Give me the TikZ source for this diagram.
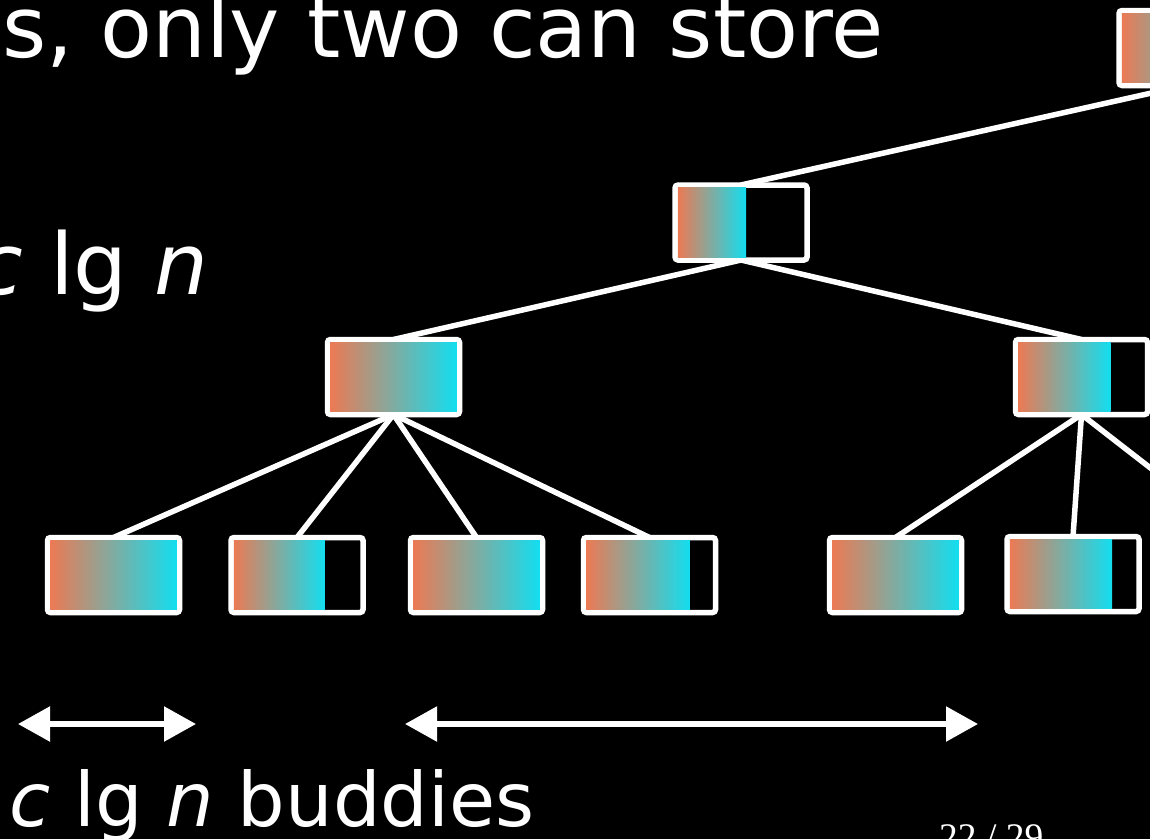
\documentclass[tikz,border=0pt]{standalone}
\usepackage{fontspec}
\usetikzlibrary{arrows.meta}
\newfontfamily\slidefont{DejaVu Sans}[ItalicFont={DejaVu Sans Oblique}]
\newfontfamily\pagefont{Liberation Serif}
\definecolor{fillorange}{RGB}{236,122,84}
\definecolor{fillcyan}{RGB}{18,222,240}
\tikzset{
  x=1pt, y=1pt,
  treebox/.style={draw=white, line width=5.5pt, fill=black, rounded corners=3pt,
    minimum width=132pt, minimum height=75pt, inner sep=0pt, outer sep=0pt},
  boxfill/.style={left color=fillorange, right color=fillcyan},
  edge/.style={draw=white, line width=5.5pt},
  span/.style={draw=white, line width=5.5pt,
    {Triangle[length=32pt,width=34pt]}-{Triangle[length=32pt,width=34pt]}},
  bigtext/.style={text=white, inner sep=0pt, font=\slidefont\fontsize{85}{100}\selectfont},
  labeltext/.style={text=white, inner sep=0pt, font=\slidefont\fontsize{75}{90}\selectfont},
  pagenum/.style={text=white, inner sep=0pt, font=\pagefont\fontsize{37.5}{44}\selectfont},
}
% gradient filling the used part (#2 of the inner width) of box #1
\newcommand\usedpart[2]{%
  \shade[boxfill] ([shift={(2.75,2.75)}]#1.south west) rectangle
    ([shift={({2.75+#2*126.5},-2.75)}]#1.north west);}
\begin{document}
\begin{tikzpicture}
\useasboundingbox (0,0) rectangle (1150,-839);
\fill[black] (0,0) rectangle (1150,-839);
\clip (0,0) rectangle (1150,-839);

% tree node positions
\coordinate (root) at (1185,-48);
\coordinate (l1) at (741,-222.5);
\coordinate (l2a) at (393.5,-377);
\coordinate (l2b) at (1081.5,-377);
\coordinate (la) at (113.5,-575);
\coordinate (lb) at (297,-575);
\coordinate (lc) at (476.5,-575);
\coordinate (ld) at (649.5,-575);
\coordinate (le) at (895.5,-575);
\coordinate (lf) at (1073,-574);
\coordinate (lg) at (1240,-575);

% edges (drawn first so the boxes sit on top)
\draw[edge] ([yshift=-37.5]root) -- ([yshift=37.5]l1);
\draw[edge] ([yshift=-37.5]l1) -- ([yshift=37.5]l2a);
\draw[edge] ([yshift=-37.5]l1) -- ([yshift=37.5]l2b);
\foreach \c in {la,lb,lc,ld} \draw[edge] ([yshift=-37.5]l2a) -- ([yshift=37.5]\c);
\foreach \c in {le,lf,lg} \draw[edge] ([yshift=-37.5]l2b) -- ([yshift=37.5]\c);

% boxes
\node[treebox] (nroot) at (root) {};
\node[treebox] (n1)    at (l1) {};
\node[treebox] (n2a)   at (l2a) {};
\node[treebox] (n2b)   at (l2b) {};
\node[treebox] (na)    at (la) {};
\node[treebox] (nb)    at (lb) {};
\node[treebox] (nc)    at (lc) {};
\node[treebox] (nd)    at (ld) {};
\node[treebox] (ne)    at (le) {};
\node[treebox] (nf)    at (lf) {};

% filled parts
\usedpart{nroot}{0.8}
\usedpart{n1}{0.54}
\usedpart{n2a}{1}
\usedpart{n2b}{0.73}
\usedpart{na}{1}
\usedpart{nb}{0.72}
\usedpart{nc}{1}
\usedpart{nd}{0.82}
\usedpart{ne}{1}
\usedpart{nf}{0.81}

% spans of buddies
\coordinate (s1a) at (18,-724);
\coordinate (s1b) at (196,-724);
\coordinate (s2a) at (405,-724);
\coordinate (s2b) at (978,-724);
\draw[span] (s1a) -- (s1b);
\draw[span] (s2a) -- (s2b);

% text
\node[bigtext, anchor=base east] (title) at (884,-57) {s, only two can store};
\node[bigtext, anchor=base east] (clgn) at (209,-294) {\textit{c} lg \textit{n}};
\node[labeltext, anchor=base west] (buddies) at (9,-826) {\textit{c} lg \textit{n} buddies};
\node[pagenum, anchor=base west] (page) at (939,-849) {22 / 29};
\end{tikzpicture}
\end{document}
